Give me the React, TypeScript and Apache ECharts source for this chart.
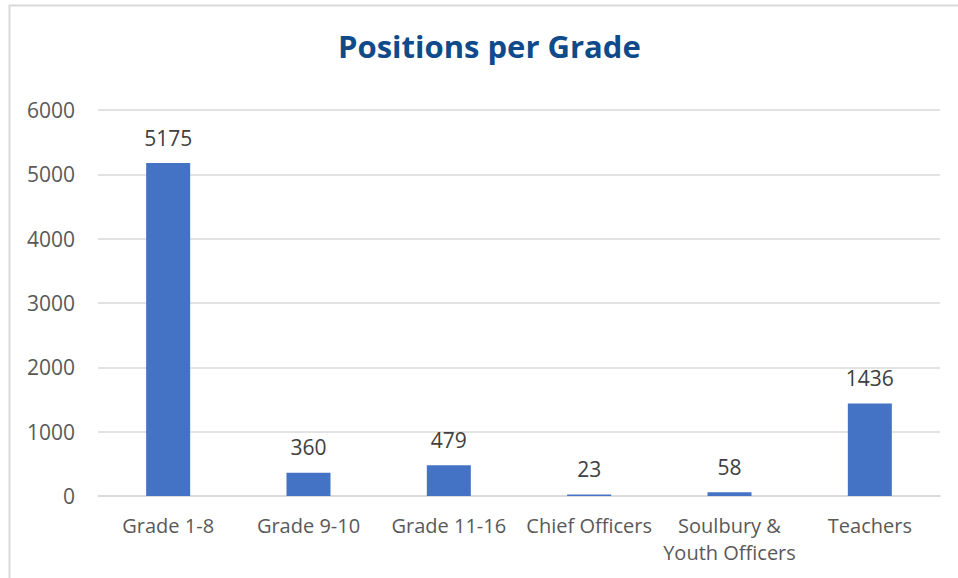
import React, { useEffect, useRef } from "react";
import * as echarts from "echarts";

const categories = ["Grade 1-8", "Grade 9-10", "Grade 11-16", "Chief Officers", "Soulbury &\nYouth Officers", "Teachers"];
const positions = [5175, 360, 479, 23, 58, 1436];
const title = "Positions per Grade";

export default function App() {
  const ref = useRef<HTMLDivElement>(null);
  useEffect(() => {
    document.body.style.margin = "0";
    const chart = echarts.init(ref.current!, null, { renderer: "svg" });
    const font = "'Open Sans', sans-serif";
    chart.setOption({
      animation: false,
      backgroundColor: "#ffffff",
      title: {
        text: title,
        left: 333,
        top: 25,
        textStyle: { fontFamily: font, fontSize: 31, fontWeight: "bold", color: "#0f4a8a" },
      },
      graphic: [
        {
          type: "rect",
          shape: { x: 9.5, y: 5.5, width: 1000, height: 1000 },
          style: { fill: "none", stroke: "#d9d9d9", lineWidth: 2 },
          silent: true,
        },
      ],
      grid: { left: 98, right: 18, top: 110, bottom: 82, containLabel: false },
      xAxis: {
        type: "category",
        data: categories,
        axisLine: { lineStyle: { color: "#d9d9d9", width: 1.5 } },
        axisTick: { show: false },
        axisLabel: { color: "#595959", fontFamily: font, fontSize: 20, margin: 16, lineHeight: 27, interval: 0 },
      },
      yAxis: {
        type: "value",
        min: 0,
        max: 6000,
        interval: 1000,
        axisLine: { show: false },
        axisTick: { show: false },
        splitLine: { lineStyle: { color: "#d9d9d9", width: 1.5 } },
        axisLabel: {
          color: "#595959",
          fontFamily: font,
          fontSize: 21,
          margin: 23,
          formatter: (v: number) => String(v),
        },
      },
      series: [
        {
          type: "bar",
          data: positions,
          barWidth: 44,
          itemStyle: { color: "#4472c4" },
          label: {
            show: true,
            position: "top",
            distance: 15,
            color: "#404040",
            fontFamily: font,
            fontSize: 21,
          },
        },
      ],
    });
    return () => chart.dispose();
  }, []);
  return <div ref={ref} style={{ width: 958, height: 578 }} />;
}
